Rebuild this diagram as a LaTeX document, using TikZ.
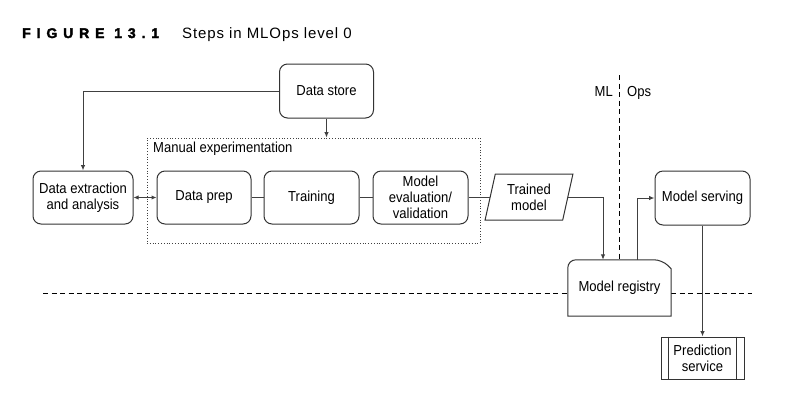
\documentclass[tikz,border=0pt]{standalone}
\usepackage{fontspec}
\setmainfont[FakeStretch=0.9]{Liberation Sans}
\newfontfamily\titlefont[LetterSpace=42,FakeBold=2.5]{Liberation Sans Bold}
\newfontfamily\captfont[LetterSpace=6]{Liberation Sans}
\usetikzlibrary{arrows.meta,shapes.geometric}
\begin{document}
\begin{tikzpicture}[x=1pt,y=-1pt,
  font=\fontsize{14.5}{16}\selectfont,
  box/.style={draw=black!80,line width=1pt,rounded corners=8pt,align=center,inner sep=0pt},
  conn/.style={draw=black!75,line width=1pt},
  arr/.style={conn,-{Latex[length=5.5pt,width=4.5pt]}},
  darr/.style={conn,{Latex[length=5pt,width=4.5pt]}-{Latex[length=5pt,width=4.5pt]}},
  sep/.style={draw=black,line width=0.9pt,dash pattern=on 5pt off 3.5pt}]
\useasboundingbox (0,0) rectangle (797,408);
% title
\node[anchor=base west,inner sep=0pt,font=\titlefont\fontsize{14}{15}\selectfont] (fig) at (22,38) {FIGURE 13.1};
\node[anchor=base west,inner sep=0pt,font=\captfont\fontsize{15}{16}\selectfont] (cap) at (182,38) {Steps in MLOps level 0};
% separators
\coordinate (vtop) at (619,75);
\coordinate (hl) at (43,293);
\coordinate (hr) at (752,293);
% nodes
\node[box,minimum width=94pt,minimum height=54pt] (ds) at (326.5,91) {Data store};
\node[draw=black!75,line width=0.8pt,dotted,minimum width=333pt,minimum height=105pt,inner sep=0pt] (me) at (313.5,190.5) {};
\node[anchor=north west,inner sep=0pt] (melab) at (153,142) {Manual experimentation};
\node[box,minimum width=100pt,minimum height=53pt] (de) at (83,197.5) {Data extraction\\and analysis};
\node[box,minimum width=94pt,minimum height=53pt] (dp) at (204,197.5) {Data prep};
\node[box,minimum width=95pt,minimum height=53pt] (tr) at (311.5,197.5) {Training};
\node[box,minimum width=95pt,minimum height=53pt] (ev) at (420.5,197.5) {Model\\evaluation/\\validation};
\node[draw=black!80,line width=1pt,shape=trapezium,trapezium left angle=76,trapezium right angle=104,trapezium stretches=true,minimum width=88pt,minimum height=46pt,inner sep=0pt,align=center] (tm) at (529,197) {Trained\\model};
\node[inner sep=0pt,minimum width=103pt,minimum height=56pt] (mr) at (619.5,288) {Model registry};
\node[box,minimum width=95pt,minimum height=54pt] (ms) at (702.5,198) {Model serving};
\node[draw=black!80,line width=1pt,minimum width=83pt,minimum height=42pt,inner sep=0pt,align=center] (ps) at (702.5,358) {Prediction\\service};
\node[anchor=base east,inner sep=0pt] (ml) at (613,96) {ML};
\node[anchor=base west,inner sep=0pt] (ops) at (627,96) {Ops};
% separators drawing
\draw[sep] (vtop) -- (vtop |- mr.north);
\draw[sep] (hl) -- (mr.west |- hl);
\draw[sep] (mr.east |- hr) -- (hr);
% registry shape
\draw[draw=black!80,line width=1pt] (mr.south west) [rounded corners=8pt] -- (mr.north west) -- ([xshift=-9pt]mr.north east) [sharp corners] -- ([yshift=-9pt]mr.north east) -- (mr.south east) -- cycle;
% prediction inner lines
\draw[draw=black!80,line width=1pt] ([xshift=8pt]ps.north west) -- ([xshift=8pt]ps.south west);
\draw[draw=black!80,line width=1pt] ([xshift=-8pt]ps.north east) -- ([xshift=-8pt]ps.south east);
% connectors
\draw[arr] (ds.west) -| (de.north);
\draw[arr] (ds.south) -- (me.north -| ds.south);
\draw[darr] (de.east) -- (dp.west);
\draw[conn] (dp.east) -- (tr.west);
\draw[conn] (tr.east) -- (ev.west);
\draw[conn] (ev.east |- tm.west) -- (tm.west);
\draw[arr] (tm.east) -| ([xshift=-16.5pt]mr.north);
\draw[arr] ([xshift=17.5pt]mr.north) |- (ms.west);
\draw[arr] (ms.south) -- (ps.north);
\end{tikzpicture}
\end{document}
